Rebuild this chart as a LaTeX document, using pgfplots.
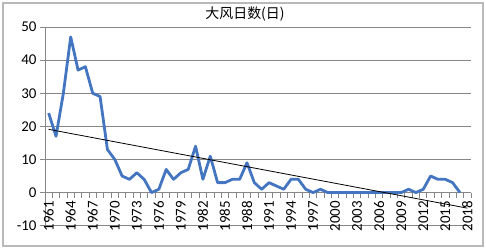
\documentclass[border=0pt]{standalone}
\usepackage{pgfplots}
\pgfplotsset{compat=1.18}
\usepackage{fontspec}
\setmainfont{Carlito}
\newfontfamily\cjk{Noto Sans CJK SC}
\definecolor{serblue}{RGB}{68,117,192}
\definecolor{gridgray}{RGB}{134,134,134}
\definecolor{bordergray}{RGB}{185,185,185}
\begin{document}
\begin{tikzpicture}
\begin{axis}[
  at={(0,0)}, anchor=south west,
  scale only axis, width=426bp, height=198.7bp,
  xmin=1960.5, xmax=2018.5, ymin=-10, ymax=50,
  axis x line*=middle, axis y line*=left,
  x axis line style={-}, y axis line style={-},
  axis line style={gridgray, line width=0.8bp},
  /pgf/number format/assume math mode=true,
  /pgf/number format/1000 sep={},
  xtick={1961,1964,...,2018},
  major x tick style={draw=none},
  minor xtick={1960.5,1961.5,...,2018.5},
  minor x tick style={gridgray, line width=0.8bp},
  minor tick length=5bp,
  tick align=outside,
  xticklabel style={rotate=90, anchor=east, font=\fontsize{15}{15}\selectfont, text=black},
  ytick={-10,0,...,50},
  major y tick style={gridgray, line width=0.8bp},
  major tick length=5bp,
  yticklabel style={font=\fontsize{15}{15}\selectfont, text=black},
  ymajorgrids, grid style={gridgray, line width=0.8bp},
  clip=false,
]
\addplot[serblue, line width=2.8bp, line join=round, no marks] coordinates {
(1961,24) (1962,17) (1963,30) (1964,47) (1965,37) (1966,38) (1967,30) (1968,29) (1969,13) (1970,10)
(1971,5) (1972,4) (1973,6) (1974,4) (1975,0) (1976,1) (1977,7) (1978,4) (1979,6) (1980,7)
(1981,14) (1982,4) (1983,11) (1984,3) (1985,3) (1986,4) (1987,4) (1988,9) (1989,3) (1990,1)
(1991,3) (1992,2) (1993,1) (1994,4) (1995,4) (1996,1) (1997,0) (1998,1) (1999,0) (2000,0)
(2001,0) (2002,0) (2003,0) (2004,0) (2005,0) (2006,0) (2007,0) (2008,0) (2009,0) (2010,1)
(2011,0) (2012,1) (2013,5) (2014,4) (2015,4) (2016,3) (2017,0)
};
\addplot[black, line width=0.8bp, no marks] coordinates {(1961,19.1) (2018,-4.7)};
\end{axis}
\node[font=\cjk\fontsize{14}{14}\selectfont, text=black] at (200bp,211.7bp) {大风日数(日)};
\draw[bordergray, line width=1.2bp] (-42bp,-20.3bp) rectangle (438bp,222.7bp);
\pgfresetboundingbox
\path (-45bp,-24.3bp) rectangle (441bp,225.7bp);
\end{tikzpicture}
\end{document}
